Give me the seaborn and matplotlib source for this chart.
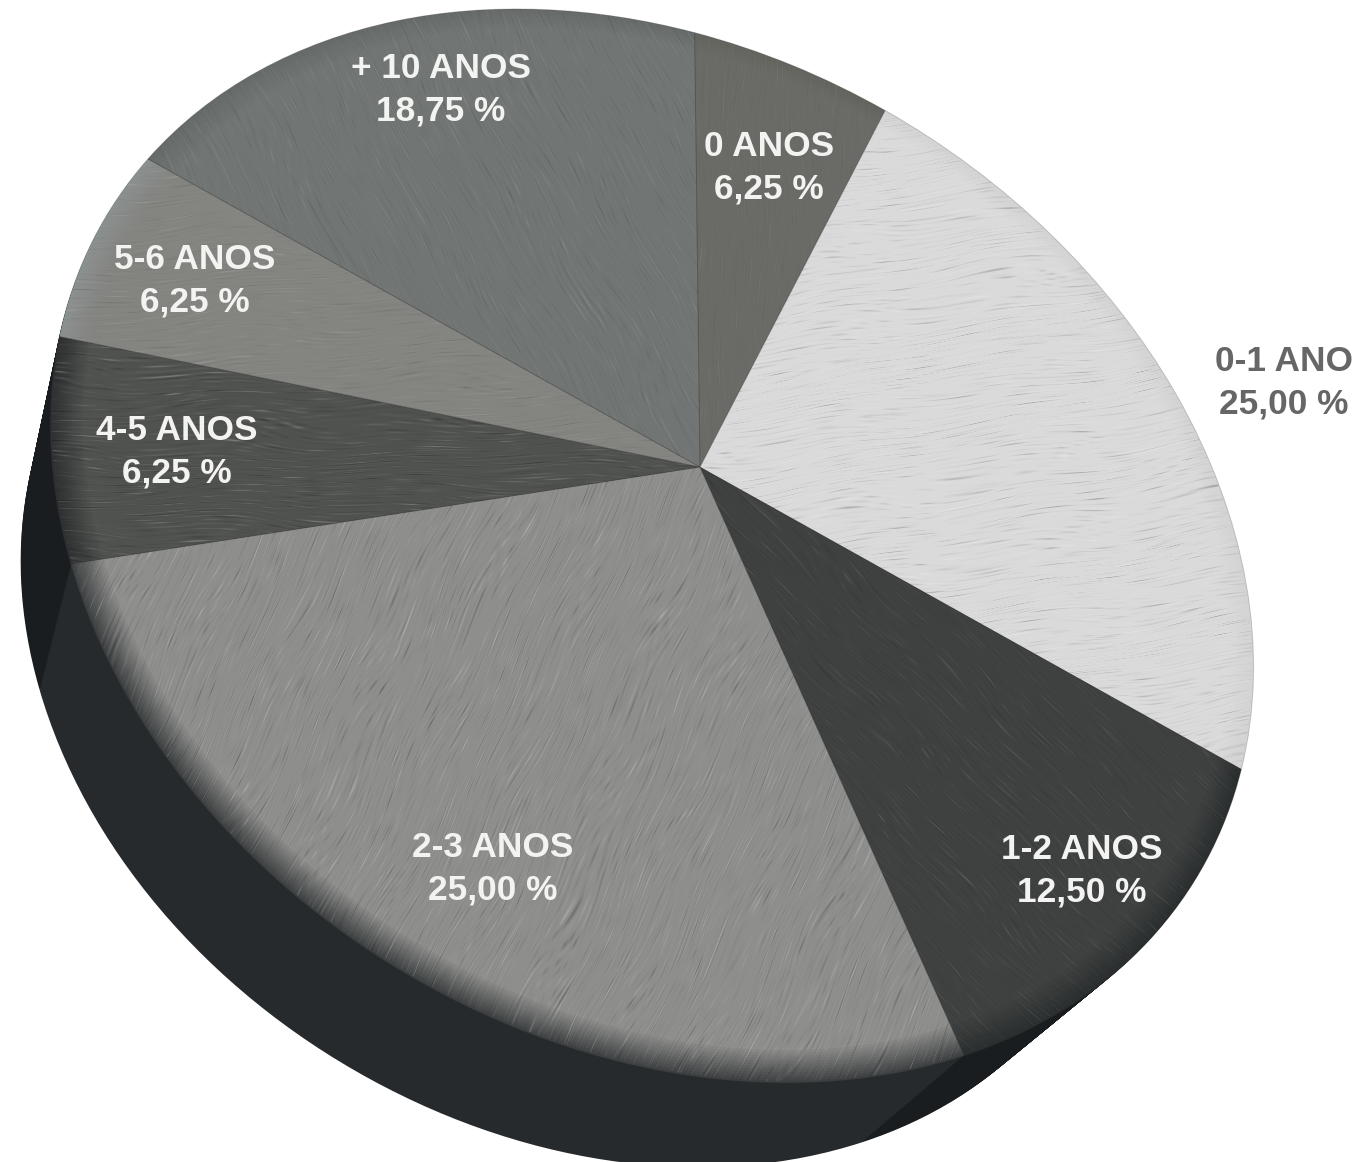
import numpy as np
import matplotlib
matplotlib.use("Agg")
import matplotlib.pyplot as plt
import matplotlib.transforms as mtransforms
from matplotlib.colors import to_rgb
import seaborn as sns

# clockwise from the top of the pie
categories = ["0 ANOS", "0-1 ANO", "1-2 ANOS", "2-3 ANOS", "4-5 ANOS", "5-6 ANOS", "+ 10 ANOS"]
shares = [6.25, 25.00, 12.50, 25.00, 6.25, 6.25, 18.75]

face_colors = ["#6a6a66", "#d9dad9", "#3e4140", "#8e8e8c", "#50524f", "#848481", "#717573"]
rim_colors = ["#64645f", "#d2d3d2", "#2b2e2e", "#3d4041", "#2e3031", "#8b9090", "#666a69"]
wall_colors = ["#1b1e20", "#1b1e20", "#1a1d1f", "#272a2d", "#1a1d1f", "#1a1d1f", "#1b1e20"]
text_colors = ["#f3f3f1", "#666666", "#f3f3f1", "#f3f3f1", "#f3f3f1", "#f3f3f1", "#f3f3f1"]

# brush direction (degrees from horizontal) and strength of each slice
brush_angle = [90, 8, -45, 65, 0, 4, -62]
brush_amount = [0.03, 0.09, 0.05, 0.10, 0.10, 0.05, 0.05]
BRUSH_FREQ = [0.61, 1.07, 1.73, 2.39]

# label centres, image pixels
label_x = [769, 1284, 1082, 493, 177, 195, 441]
label_y = [168, 383, 871, 869, 452, 281, 90]

# unit disc -> image pixels, tilted view of the pie
TILT = np.array([[645.37394, 111.84553, 699.95753],
                 [157.53659, -428.95790, 467.05605],
                 [0.08034, 0.16866, 1.0]])
CENTER = (700, 467)
WALL_SCALE = 0.921
WALL_SHIFT = (-81, 133)
W, H = 1361, 1162


class TiltTransform(mtransforms.Transform):
    input_dims = 2
    output_dims = 2
    is_separable = False
    has_inverse = False

    def transform_non_affine(self, values):
        xy = np.c_[values, np.ones(len(values))] @ TILT.T
        return xy[:, :2] / xy[:, 2:]


def layer_transform(t):
    """where the pie sits at depth t (0 = top face, 1 = bottom of the wall)"""
    scale = 1 - t * (1 - WALL_SCALE)
    return (mtransforms.Affine2D()
            .translate(-CENTER[0], -CENTER[1])
            .scale(scale)
            .translate(CENTER[0] + t * WALL_SHIFT[0], CENTER[1] + t * WALL_SHIFT[1]))


def draw_pie(ax, t=0.0, radius=1.0, **kwargs):
    wedges, _ = ax.pie(shares, startangle=90, counterclock=False, radius=radius, **kwargs)
    for w in wedges:
        w.set_transform(TiltTransform() + layer_transform(t) + ax.transData)
    return wedges


def brush_layer(angle, amount):
    """short thin streaks, from warped sines that never quite line up"""
    a = np.radians(angle)
    yy, xx = np.mgrid[0:H, 0:W]
    across = xx * np.sin(a) + yy * np.cos(a)
    along = xx * np.cos(a) - yy * np.sin(a)
    # bend the stripes so they stop looking like a ruled pattern
    bent = across + 9 * np.sin(across / 41) + 5 * np.sin(across / 13.7 + along / 97) + 3 * np.sin(along / 29)
    val = np.zeros(xx.shape)
    for f in BRUSH_FREQ:
        val += np.sin(f * bent + 4 * np.sin(along / (47 * f) + 3.1 * f) + 7 * np.sin(across / (11 * f)))
    val = val / len(BRUSH_FREQ) * 2
    # break each streak up along its length
    val *= 0.5 + 0.5 * np.sin(along / 19 + 9 * np.sin(across / 7.3)) * np.sin(along / 53 + across / 3.1)
    rgba = np.zeros((H, W, 4))
    rgba[..., :3] = (val > 0)[..., None]
    rgba[..., 3] = np.clip(np.abs(val) ** 1.5 * amount, 0, 1)
    return rgba


sns.set_theme(style="white")
plt.rcParams["font.family"] = ["Liberation Sans", "DejaVu Sans"]

fig = plt.figure(figsize=(13.61, 11.62), dpi=100)
ax = fig.add_axes([0, 0, 1, 1])

# side wall: same pie stacked from the bottom up
for t in np.linspace(1, 0.01, 70):
    draw_pie(ax, t=t, colors=wall_colors, wedgeprops={"linewidth": 0.6, "edgecolor": "none"})

# top face with a soft rim
rim = np.array([to_rgb(c) for c in rim_colors])
face = np.array([to_rgb(c) for c in face_colors])
draw_pie(ax, colors=rim_colors, wedgeprops={"linewidth": 0})
radii = np.linspace(0.997, 0.955, 12)
for k, r in enumerate(radii):
    mix = (k + 1) / len(radii)
    wedges = draw_pie(ax, radius=r, colors=[tuple(v) for v in rim + (face - rim) * mix],
                      wedgeprops={"linewidth": 0})

# brushed texture, one image per slice, cut to the slice
clips = draw_pie(ax, radius=0.998, colors=["none"] * len(shares), wedgeprops={"linewidth": 0})
for clip, angle, amount in zip(clips, brush_angle, brush_amount):
    im = ax.imshow(brush_layer(angle, amount), extent=(0, W, H, 0), aspect="auto",
                   interpolation="bilinear", zorder=1.5)
    im.set_clip_path(clip)

# seam where the dark slice meets its neighbours
seams = draw_pie(ax, colors=["none"] * len(shares),
                 wedgeprops={"linewidth": 0.6, "edgecolor": "#33333340"})
for s in seams:
    s.set_zorder(1.6)

for name, share, x, y, c in zip(categories, shares, label_x, label_y, text_colors):
    txt = f"{share:.2f}".replace(".", ",") + " %"
    ax.text(x, y, f"{name}\n{txt}", ha="center", va="center", color=c, zorder=3,
            fontsize=25.4, fontweight="bold", linespacing=1.36, multialignment="center")

ax.set_xlim(0, W)
ax.set_ylim(H, 0)
fig.savefig("out.png", dpi=100)
